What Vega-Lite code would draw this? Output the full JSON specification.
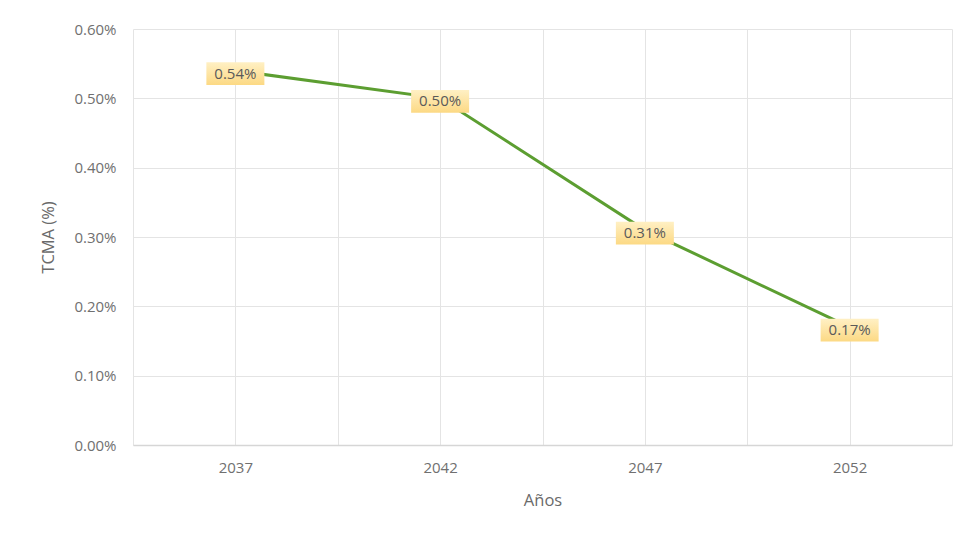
{
  "$schema": "https://vega.github.io/schema/vega-lite/v6.json",
  "autosize": "none",
  "width": 819,
  "height": 416,
  "padding": {"left": 133, "top": 29, "right": 12, "bottom": 90},
  "background": "#ffffff",
  "config": {
    "font": "Open Sans",
    "view": {"stroke": null},
    "axis": {
      "labelFont": "Open Sans",
      "titleFont": "Open Sans",
      "labelColor": "#707070",
      "titleColor": "#6a6a6a",
      "labelFontSize": 15,
      "titleFontSize": 16.5,
      "titleFontWeight": "normal",
      "gridColor": "#e4e4e4",
      "gridWidth": 1,
      "ticks": false
    }
  },
  "data": {
    "values": [
      {"year": 2037, "tcma": 0.0054},
      {"year": 2042, "tcma": 0.0050},
      {"year": 2047, "tcma": 0.0031},
      {"year": 2052, "tcma": 0.0017}
    ]
  },
  "encoding": {
    "x": {
      "field": "year",
      "type": "quantitative",
      "scale": {"domain": [2034.5, 2054.5], "nice": false, "zero": false},
      "axis": {
        "title": "Años",
        "values": [2034.5, 2037, 2039.5, 2042, 2044.5, 2047, 2049.5, 2052, 2054.5],
        "labelExpr": "datum.value % 5 == 2 ? format(datum.value, 'd') : ''",
        "labelPadding": 15,
        "titlePadding": 17,
        "domain": true,
        "domainColor": "#d6d6d6",
        "domainWidth": 1.5,
        "grid": true
      }
    },
    "y": {
      "field": "tcma",
      "type": "quantitative",
      "scale": {"domain": [0, 0.006], "nice": false},
      "axis": {
        "title": "TCMA (%)",
        "values": [0, 0.001, 0.002, 0.003, 0.004, 0.005, 0.006],
        "format": ".2%",
        "labelPadding": 17,
        "titlePadding": 17,
        "domain": false,
        "grid": true
      }
    }
  },
  "layer": [
    {
      "mark": {"type": "line", "color": "#5c9e31", "strokeWidth": 3}
    },
    {
      "mark": {
        "type": "point",
        "filled": true,
        "shape": "M-1,-0.39H1V0.39H-1Z",
        "size": 3364,
        "strokeWidth": 0,
        "opacity": 1,
        "yOffset": 3,
        "fill": {
          "gradient": "linear",
          "x1": 0, "y1": 0, "x2": 0, "y2": 1,
          "stops": [
            {"offset": 0, "color": "#fff0c4"},
            {"offset": 1, "color": "#fcd984"}
          ]
        }
      }
    },
    {
      "mark": {
        "type": "text",
        "font": "Open Sans",
        "fontSize": 15,
        "color": "#5a5a5a",
        "yOffset": 3
      },
      "encoding": {
        "text": {"field": "tcma", "type": "quantitative", "format": ".2%"}
      }
    }
  ]
}
